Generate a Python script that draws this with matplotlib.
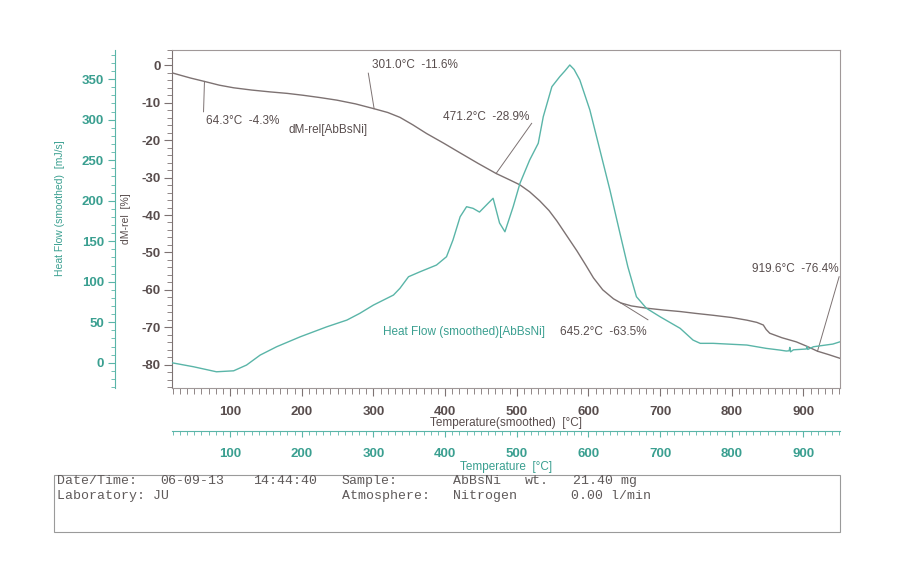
import matplotlib
matplotlib.use("Agg")
import matplotlib.pyplot as plt
from matplotlib.ticker import MultipleLocator, FixedLocator
from matplotlib.patches import Rectangle

plt.rcParams['font.family'] = ['Liberation Sans', 'DejaVu Sans']
plt.rcParams['axes.unicode_minus'] = False

# ---- data ----
temp_dm = [19, 30, 45, 64.3, 85, 105, 130, 156, 180, 202, 225, 249, 275, 301.0, 320,
           337, 355, 374, 398, 421, 446, 471.2, 490, 504, 518, 532, 545, 556, 570, 584,
           596, 607, 620, 635, 645.2, 660, 681, 705, 728, 750, 774, 800, 821, 835, 844,
           848, 853, 870, 890, 905, 919.6, 935, 951]
dm_rel = [-2.0, -2.6, -3.4, -4.3, -5.3, -6.0, -6.6, -7.1, -7.5, -8.0, -8.6, -9.3, -10.3,
          -11.6, -12.6, -13.9, -15.9, -18.2, -20.8, -23.4, -26.2, -28.9, -30.6, -31.9,
          -33.8, -36.2, -38.8, -41.6, -45.6, -49.6, -53.3, -56.8, -60.0, -62.4, -63.5,
          -64.3, -64.9, -65.4, -65.8, -66.3, -66.8, -67.4, -68.1, -68.7, -69.4, -70.6,
          -71.6, -72.8, -73.9, -75.1, -76.4, -77.3, -78.3]

temp_hf = [19, 49, 81, 105, 123, 142, 165, 198, 235, 263, 281, 300, 328, 337, 349, 365,
           388, 402, 411, 421, 430, 439, 448, 460, 467, 476, 483.5, 495, 504.5, 518, 530,
           537, 549, 560, 567, 574, 580, 588, 602, 616, 630, 644, 655, 667, 681, 700, 728,
           746, 756, 774, 821, 848, 867, 876, 880, 881, 882, 886, 895, 904, 905, 906, 914,
           941, 951]
heat_flow = [0, -4.9, -11.1, -9.9, -2.8, 9.5, 19.8, 32.1, 44.4, 52.7, 61, 71.2, 83.6,
             91.9, 106.2, 112.3, 120.6, 130.9, 151.5, 180.2, 192.6, 190.6, 186.0, 196.8,
             203, 172.5, 161.7, 192.6, 221.5, 250.2, 270.9, 303.7, 340.7, 353.1, 360,
             367.5, 362, 349, 312, 262.6, 213.2, 159.8, 118.5, 81.5, 67.2, 56.8, 42.5,
             28, 24, 24, 21.9, 17.8, 15.7, 14.5, 14.8, 19.0, 13.5, 16.0, 16.5, 17.0,
             20.0, 16.5, 19.8, 23.1, 25.9]

# step annotations: (temperature, mass loss)
steps = [(64.3, -4.3), (301.0, -11.6), (471.2, -28.9), (645.2, -63.5), (919.6, -76.4)]

GRAY = '#7d7272'
GRAY_TXT = '#584d4d'
TEAL = '#5ab5a8'
TEAL_TXT = '#3a9f90'

W, H = 903, 576
fig = plt.figure(figsize=(W / 100, H / 100), dpi=100)
fig.patch.set_facecolor('white')

# main axes in pixel terms
x0, x1, y0, y1 = 172, 840, 50, 387.5
ax = fig.add_axes([x0 / W, 1 - y1 / H, (x1 - x0) / W, (y1 - y0) / H])
ax.set_xlim(19, 951)
ax.set_ylim(-86.1, 4.1)
for s in ax.spines.values():
    s.set_color('#a09898')
    s.set_linewidth(0.8)
ax.spines['left'].set_color(GRAY)

ax.plot(temp_dm, dm_rel, color=GRAY, lw=1.0, zorder=3)

ax.yaxis.set_major_locator(FixedLocator(range(-80, 1, 10)))
ax.yaxis.set_minor_locator(MultipleLocator(2))
ax.xaxis.set_major_locator(FixedLocator(range(100, 901, 100)))
ax.xaxis.set_minor_locator(MultipleLocator(10))
ax.tick_params(axis='y', which='major', direction='out', length=6, width=0.8,
               color=GRAY, labelcolor=GRAY_TXT, labelsize=9.5, pad=2)
ax.tick_params(axis='y', which='minor', direction='out', length=3.5, width=0.6, color=GRAY)
ax.tick_params(axis='x', which='major', direction='out', length=6, width=0.8,
               color=GRAY, labelcolor=GRAY_TXT, labelsize=9.5, pad=7)
ax.tick_params(axis='x', which='minor', direction='out', length=4, width=0.6, color=GRAY)
for lab in ax.get_xticklabels() + ax.get_yticklabels():
    lab.set_fontweight('bold')

# heat flow axis, spine offset to the left
ax_hf = ax.twinx()
ax_hf.set_ylim(-30.5, 386)
ax_hf.yaxis.set_ticks_position('left')
ax_hf.spines['left'].set_position(('axes', (115 - x0) / (x1 - x0)))
ax_hf.spines['left'].set_color(TEAL)
ax_hf.spines['left'].set_linewidth(0.8)
for k in ('right', 'top', 'bottom'):
    ax_hf.spines[k].set_visible(False)
ax_hf.yaxis.set_major_locator(FixedLocator(range(0, 351, 50)))
ax_hf.yaxis.set_minor_locator(MultipleLocator(10))
ax_hf.tick_params(axis='y', which='major', direction='out', length=5, width=0.8,
                  color=TEAL, labelcolor=TEAL_TXT, labelsize=9.5, pad=3)
ax_hf.tick_params(axis='y', which='minor', direction='out', length=3, width=0.6, color=TEAL)
for lab in ax_hf.get_yticklabels():
    lab.set_fontweight('bold')
ax_hf.plot(temp_hf, heat_flow, color=TEAL, lw=1.0, zorder=3)

# second temperature axis below
ax_t = ax.twiny()
ax_t.set_xlim(19, 951)
ax_t.xaxis.set_ticks_position('bottom')
ax_t.spines['bottom'].set_position(('axes', -(430.7 - y1) / (y1 - y0)))
ax_t.spines['bottom'].set_color(TEAL)
ax_t.spines['bottom'].set_linewidth(0.8)
for k in ('right', 'top', 'left'):
    ax_t.spines[k].set_visible(False)
ax_t.xaxis.set_major_locator(FixedLocator(range(100, 901, 100)))
ax_t.xaxis.set_minor_locator(MultipleLocator(10))
ax_t.tick_params(axis='x', which='major', direction='out', length=4.5, width=0.8,
                 color=TEAL, labelcolor=TEAL_TXT, labelsize=9.5, pad=8)
ax_t.tick_params(axis='x', which='minor', direction='out', length=3, width=0.6, color=TEAL)
for lab in ax_t.get_xticklabels():
    lab.set_fontweight('bold')

# axis titles
fig.text(506 / W, 1 - 423 / H, 'Temperature(smoothed)  [°C]', color=GRAY_TXT,
         fontsize=8.5, ha='center', va='center')
fig.text(506 / W, 1 - 467 / H, 'Temperature  [°C]', color=TEAL_TXT,
         fontsize=8.5, ha='center', va='center')
fig.text(60 / W, 1 - 208 / H, 'Heat Flow (smoothed)  [mJ/s]', color=TEAL_TXT,
         fontsize=7.5, rotation=90, ha='center', va='center')
fig.text(126 / W, 1 - 219 / H, 'dM-rel  [%]', color=GRAY_TXT,
         fontsize=7.5, rotation=90, ha='center', va='center')

# step labels with leader lines
label_pos = [(66.2, -15.0, 'left'), (298.5, 0.1, 'left'), (397.5, -13.9, 'left'),
             (560.2, -71.2, 'left'), (949.4, -54.5, 'right')]
leader_end = [(63, -12.4), (292.9, -2.1), (520.8, -15.5), (683, -68.0), (949.8, -56.5)]
for (t, m), (lx, ly, ha), (ex, ey) in zip(steps, label_pos, leader_end):
    ax.plot([t, ex], [m, ey], color=GRAY, lw=0.7, zorder=2)
    ax.text(lx, ly, f'{t:.1f}°C  {m:.1f}%', color=GRAY_TXT, fontsize=8.5,
            ha=ha, va='center', zorder=4)

ax.text(181.3, -17.2, 'dM-rel[AbBsNi]', color=GRAY_TXT, fontsize=8.5, va='center')
ax.text(313.4, -71.2, 'Heat Flow (smoothed)[AbBsNi]', color=TEAL_TXT, fontsize=8.5,
        va='center')

# info box
fig.patches.append(Rectangle((54 / W, 1 - 532 / H), (840 - 54) / W, (532 - 474.7) / H,
                             transform=fig.transFigure, fill=False, ec='#9a9a9a', lw=0.8))
mono = dict(family='Liberation Mono', fontsize=9.5, color='#5f5a5a', va='center')
line1 = [(57, 'Date/Time:'), (160, '06-09-13'), (253, '14:44:40'), (342, 'Sample:'),
         (453, 'AbBsNi'), (525, 'wt.'), (573, '21.40 mg')]
line2 = [(57, 'Laboratory: JU'), (342, 'Atmosphere:'), (453, 'Nitrogen'), (571, '0.00 l/min')]
for px, s in line1:
    fig.text(px / W, 1 - 481 / H, s, **mono)
for px, s in line2:
    fig.text(px / W, 1 - 496 / H, s, **mono)

fig.savefig('out.png', dpi=100)
